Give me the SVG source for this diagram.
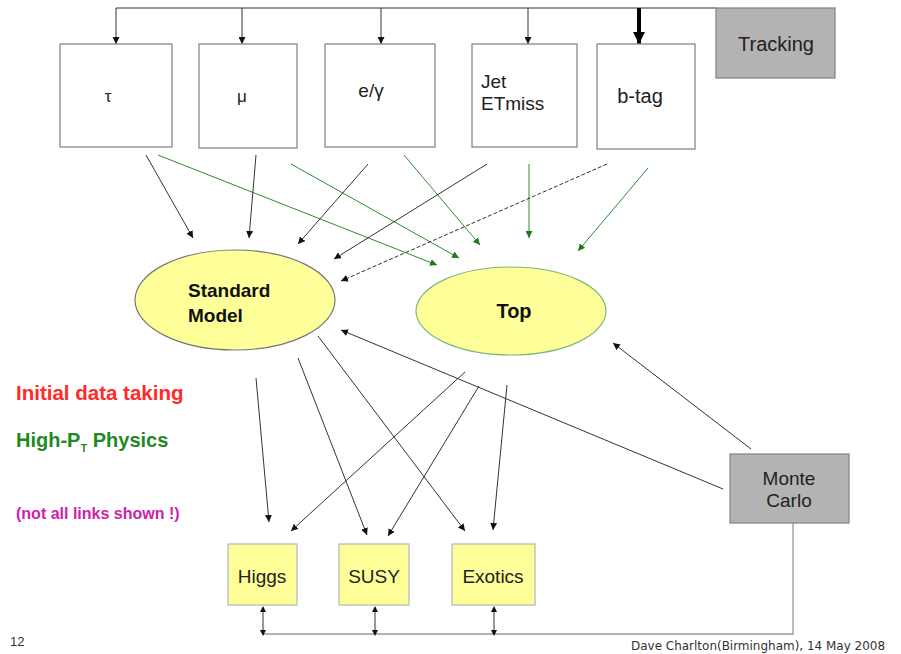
<svg xmlns="http://www.w3.org/2000/svg" width="901" height="654" viewBox="0 0 901 654">
<style>
.box{fill:#fff;stroke:#888;stroke-width:1.3}
.grey{fill:#b3b3b3;stroke:#888;stroke-width:1.3}
.yel{fill:#ffff99;stroke:#bbb;stroke-width:1.3}
.t{font-family:"Liberation Sans",Arial,sans-serif;fill:#222}
.b{font-family:"Liberation Sans",Arial,sans-serif;font-weight:bold;fill:#111}
.k{stroke:#333;stroke-width:1;fill:none}
.g{stroke:#2e8b2e;stroke-width:1;fill:none}
.gr{stroke:#999;stroke-width:1.3;fill:none}
</style>
<defs>
<marker id="ak" viewBox="0 0 10 10" refX="10" refY="5" markerWidth="7" markerHeight="7" markerUnits="userSpaceOnUse" orient="auto"><path d="M0,0L10,5L0,10z" fill="#111"/></marker>
<marker id="ag" viewBox="0 0 10 10" refX="10" refY="5" markerWidth="7" markerHeight="7" markerUnits="userSpaceOnUse" orient="auto"><path d="M0,0L10,5L0,10z" fill="#1f7a1f"/></marker>
<marker id="ab" viewBox="0 0 10 10" refX="10" refY="5" markerWidth="12" markerHeight="12" markerUnits="userSpaceOnUse" orient="auto"><path d="M0,0L10,5L0,10z" fill="#000"/></marker>
<marker id="ad" viewBox="0 0 10 10" refX="5" refY="5" markerWidth="6" markerHeight="6" markerUnits="userSpaceOnUse" orient="auto-start-reverse"><path d="M0,0L10,5L0,10z" fill="#111"/></marker>
</defs>

<g id="connectors">
<path class="k" d="M116,8H716"/>
<path class="k" d="M116,8V44" marker-end="url(#ak)"/>
<path class="k" d="M242,8V44" marker-end="url(#ak)"/>
<path class="k" d="M381,8V44" marker-end="url(#ak)"/>
<path class="k" d="M528,8V44" marker-end="url(#ak)"/>
<path d="M639,8V44" stroke="#000" stroke-width="4" marker-end="url(#ab)"/>
<path class="k" d="M146,155L193,238" marker-end="url(#ak)"/>
<path class="g" d="M158,155L437,265" marker-end="url(#ag)"/>
<path class="k" d="M256,155L249,238" marker-end="url(#ak)"/>
<path class="g" d="M291,164L459,258" marker-end="url(#ag)"/>
<path class="k" d="M368,164L298,244" marker-end="url(#ak)"/>
<path class="g" d="M404,155L480,245" marker-end="url(#ag)"/>
<path class="k" d="M487,164L334,259" marker-end="url(#ak)"/>
<path class="g" d="M529,164V238" marker-end="url(#ag)"/>
<path class="k" d="M607,164L341,281" stroke-dasharray="4,2" marker-end="url(#ak)"/>
<path class="g" d="M648,168L578,251" marker-end="url(#ag)"/>
<path class="k" d="M256,378L269,522" marker-end="url(#ak)"/>
<path class="k" d="M298,358L367,535" marker-end="url(#ak)"/>
<path class="k" d="M318,336L465,531" marker-end="url(#ak)"/>
<path class="k" d="M465,372L291,531" marker-end="url(#ak)"/>
<path class="k" d="M479,386L388,536" marker-end="url(#ak)"/>
<path class="k" d="M507,385L493,530" marker-end="url(#ak)"/>
<path class="k" d="M723,489L341,330" marker-end="url(#ak)"/>
<path class="k" d="M751,449L613,343" marker-end="url(#ak)"/>
<path class="gr" d="M793,523V634H263"/>
<path class="k" d="M263,609V633" marker-start="url(#ad)" marker-end="url(#ad)"/>
<path class="k" d="M375,609V633" marker-start="url(#ad)" marker-end="url(#ad)"/>
<path class="k" d="M494,609V633" marker-start="url(#ad)" marker-end="url(#ad)"/>
</g>

<g id="tracking"><rect class="grey" x="716" y="8" width="119" height="70"/><text class="t" x="776" y="51" font-size="20" text-anchor="middle">Tracking</text></g>
<g id="tau"><rect class="box" x="60" y="44" width="112" height="103"/><text class="t" x="108" y="102" font-size="17" text-anchor="middle">τ</text></g>
<g id="mu"><rect class="box" x="199" y="44" width="98" height="104"/><text class="t" x="242" y="102" font-size="17" text-anchor="middle">μ</text></g>
<g id="egamma"><rect class="box" x="325" y="44" width="110" height="103"/><text class="t" x="371" y="97" font-size="19" text-anchor="middle">e/γ</text></g>
<g id="jet"><rect class="box" x="472" y="44" width="105" height="103"/><text class="t" x="481" y="88" font-size="19">Jet</text><text class="t" x="481" y="110" font-size="19">ETmiss</text></g>
<g id="btag"><rect class="box" x="597" y="44" width="98" height="105"/><text class="t" x="640" y="103" font-size="20" text-anchor="middle">b-tag</text></g>

<g id="standard-model"><ellipse cx="235" cy="300" rx="100" ry="50" fill="#ffff99" stroke="#777" stroke-width="1.2"/><text class="b" x="188" y="297" font-size="19">Standard</text><text class="b" x="188" y="322" font-size="19">Model</text></g>
<g id="top"><ellipse cx="511" cy="311" rx="95" ry="44" fill="#ffff99" stroke="#7cb87c" stroke-width="1.2"/><text class="b" x="514" y="318" font-size="20" text-anchor="middle">Top</text></g>

<g id="monte-carlo"><rect class="grey" x="730" y="454" width="119" height="69"/><text class="t" x="789" y="485" font-size="19" text-anchor="middle">Monte</text><text class="t" x="789" y="507" font-size="19" text-anchor="middle">Carlo</text></g>

<g id="higgs"><rect class="yel" x="228" y="544" width="69" height="61"/><text class="t" x="262" y="583" font-size="19" text-anchor="middle">Higgs</text></g>
<g id="susy"><rect class="yel" x="339" y="544" width="70" height="61"/><text class="t" x="374" y="583" font-size="19" text-anchor="middle">SUSY</text></g>
<g id="exotics"><rect class="yel" x="452" y="544" width="83" height="61"/><text class="t" x="493" y="583" font-size="19" text-anchor="middle">Exotics</text></g>

<g id="legend">
<text x="16" y="400" font-family="Liberation Sans,Arial,sans-serif" font-weight="bold" font-size="20.5" fill="#ff2a2a">Initial data taking</text>
<text x="16" y="447" font-family="Liberation Sans,Arial,sans-serif" font-weight="bold" font-size="20" fill="#1f8a1f">High-P<tspan font-size="11" dy="5">T</tspan><tspan dy="-5"> Physics</tspan></text>
<text x="16" y="519" font-family="Liberation Sans,Arial,sans-serif" font-weight="bold" font-size="16" fill="#cc22aa">(not all links shown !)</text>
</g>
<text x="10" y="646" font-family="Liberation Sans,Arial,sans-serif" font-size="13" fill="#333">12</text>
<text x="631" y="650" font-family="DejaVu Sans Condensed,DejaVu Sans,sans-serif" font-size="12.5" fill="#333" textLength="254" lengthAdjust="spacingAndGlyphs">Dave Charlton(Birmingham), 14 May 2008</text>
</svg>
